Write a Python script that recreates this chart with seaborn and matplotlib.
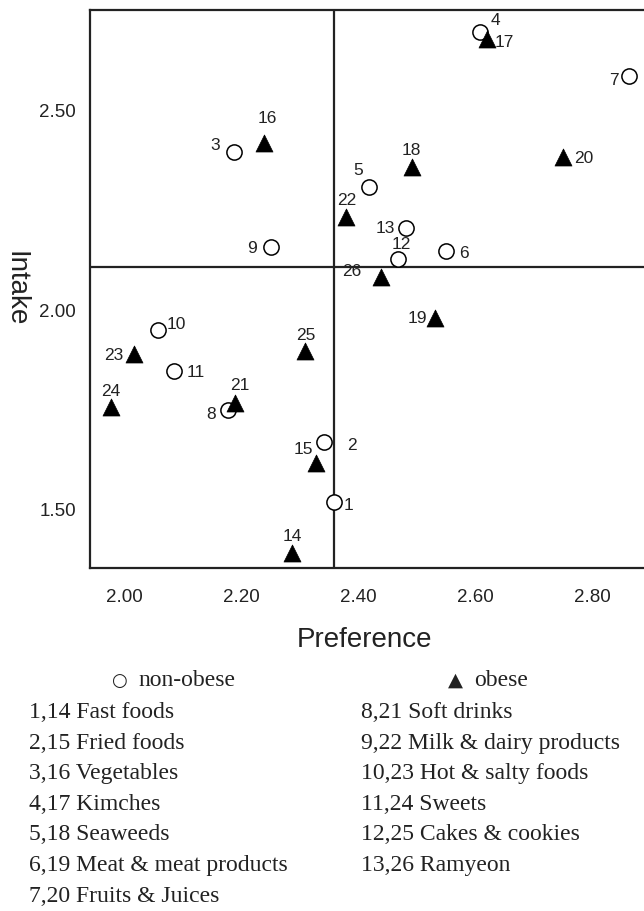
import numpy as np
import pandas as pd
import matplotlib
matplotlib.use("Agg")
import matplotlib.pyplot as plt
import seaborn as sns

# food groups (non-obese id = 1..13, obese id = 14..26)
foods = ['Fast foods', 'Fried foods', 'Vegetables', 'Kimches', 'Seaweeds',
         'Meat & meat products', 'Fruits & Juices', 'Soft drinks',
         'Milk & dairy products', 'Hot & salty foods', 'Sweets',
         'Cakes & cookies', 'Ramyeon']

# non-obese group
nonobese_id = list(range(1, 14))
nonobese_pref = [2.358, 2.342, 2.188, 2.608, 2.418, 2.550, 2.862,
                 2.178, 2.250, 2.057, 2.085, 2.467, 2.482]
nonobese_intake = [1.519, 1.668, 2.396, 2.697, 2.309, 2.148, 2.586,
                   1.749, 2.159, 1.950, 1.848, 2.129, 2.206]

# obese group
obese_id = list(range(14, 27))
obese_pref = [2.287, 2.327, 2.239, 2.619, 2.491, 2.531, 2.749,
              2.190, 2.378, 2.017, 1.977, 2.308, 2.438]
obese_intake = [1.391, 1.615, 2.420, 2.679, 2.358, 1.979, 2.385,
                1.767, 2.233, 1.890, 1.756, 1.898, 2.082]

# reference lines (means)
pref_mean = 2.359
intake_mean = 2.109

# label offsets in pixels (dx, dy)
label_off = {1: (15, -4), 2: (27, -3), 3: (-19, 7), 4: (15, 12), 5: (-11, 16),
             6: (18, -2), 7: (-15, -4), 8: (-17, -4), 9: (-19, -2), 10: (19, 5),
             11: (22, -2), 12: (4, 14), 13: (-21, -1), 14: (0, 16), 15: (-12, 14),
             16: (3, 24), 17: (18, -3), 18: (0, 17), 19: (-18, 0), 20: (21, -2),
             21: (4, 17), 22: (1, 17), 23: (-20, -2), 24: (0, 16), 25: (1, 15),
             26: (-29, 6)}

df = pd.DataFrame({
    'id': nonobese_id + obese_id,
    'Preference': nonobese_pref + obese_pref,
    'Intake': nonobese_intake + obese_intake,
    'group': ['non-obese'] * 13 + ['obese'] * 13,
})

sns.set_style('white')
plt.rcParams['font.family'] = ['Liberation Sans', 'DejaVu Sans']

W, H = 644, 911
fig = plt.figure(figsize=(W / 100, H / 100), dpi=100)
ax = fig.add_axes([90 / W, 1 - 568 / H, 554 / W, 558 / H])

sns.scatterplot(data=df[df.group == 'non-obese'], x='Preference', y='Intake',
                marker='o', s=120, facecolor='white', edgecolor='black',
                linewidth=1.1, ax=ax, zorder=3)
sns.scatterplot(data=df[df.group == 'obese'], x='Preference', y='Intake',
                marker='^', s=150, color='black', edgecolor='black',
                linewidth=0.5, ax=ax, zorder=3)

ax.axvline(pref_mean, color='#222222', lw=1.6, zorder=1)
ax.axhline(intake_mean, color='#222222', lw=1.6, zorder=1)

for _, r in df.iterrows():
    dx, dy = label_off[r['id']]
    ax.annotate(str(r['id']), (r['Preference'], r['Intake']),
                xytext=(dx, dy), textcoords='offset pixels',
                ha='center', va='center', fontsize=12.5, color='#222222')

ax.set_xlim(1.9414, 2.888)
ax.set_ylim(1.3526, 2.7528)
ax.set_xticks([2.0, 2.2, 2.4, 2.6, 2.8])
ax.set_xticklabels(['2.00', '2.20', '2.40', '2.60', '2.80'])
ax.set_yticks([1.5, 2.0, 2.5])
ax.set_yticklabels(['1.50', '2.00', '2.50'])
ax.tick_params(axis='both', direction='out', length=7, width=1.3,
               color='#222222', labelsize=13.5, labelcolor='#222222', pad=3)
ax.tick_params(axis='x', pad=8)

for side in ['left', 'bottom', 'top']:
    ax.spines[side].set_color('#222222')
    ax.spines[side].set_linewidth(1.6)
ax.spines['right'].set_visible(False)

ax.set_xlabel('Preference', fontsize=20, color='#222222', va='center')
ax.set_ylabel('Intake', fontsize=20, color='#222222', rotation=270,
              va='center', ha='center')
ax.xaxis.set_label_coords(0.495, -0.129)
ax.yaxis.set_label_coords(-0.135, 0.5)

# key below the chart
serif = ['Liberation Serif', 'DejaVu Serif']
fig.text(119 / W, 1 - 681 / H, '○', ha='center', va='center', fontsize=13,
         family=['DejaVu Sans'], color='#222222')
fig.text(138 / W, 1 - 681 / H, 'non-obese', ha='left', va='center',
         fontsize=17, family=serif, color='#222222')
fig.text(455 / W, 1 - 680 / H, '▲', ha='center', va='center', fontsize=14,
         family=['DejaVu Sans'], color='#222222')
fig.text(474 / W, 1 - 681 / H, 'obese', ha='left', va='center',
         fontsize=17, family=serif, color='#222222')

for i, name in enumerate(foods):
    line = f'{nonobese_id[i]},{obese_id[i]} {name}'
    if i < 7:
        x0, y0 = 29, 713 + i * 30.5
    else:
        x0, y0 = 361, 713 + (i - 7) * 30.5
    fig.text(x0 / W, 1 - y0 / H, line, ha='left', va='center',
             fontsize=17, family=serif, color='#222222')

fig.savefig('out.png', dpi=100)
